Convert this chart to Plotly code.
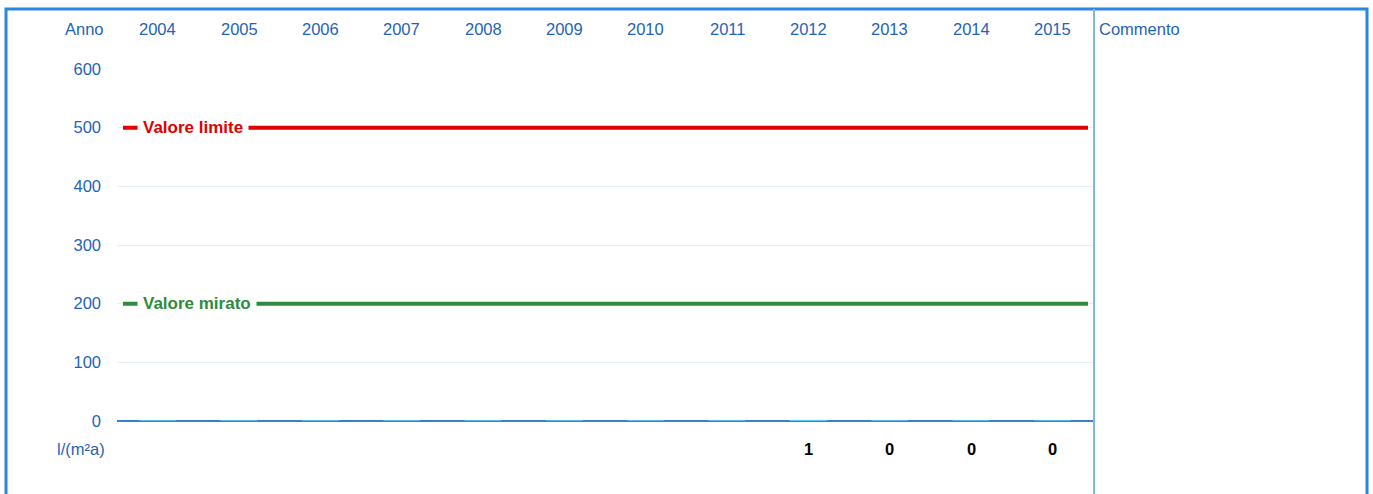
import plotly.graph_objects as go

anni = ["2004", "2005", "2006", "2007", "2008", "2009", "2010", "2011", "2012", "2013", "2014", "2015"]
valori = [0, 0, 0, 0, 0, 0, 0, 0, 1, 0, 0, 0]
valori_testo = ["", "", "", "", "", "", "", "", "1", "0", "0", "0"]
valore_limite = 500
valore_mirato = 200
y_ticks = [0, 100, 200, 300, 400, 500, 600]

W, H = 1373, 494
L, R, T, B = 117, 280, 69, 73
pw, ph = W - L - R, H - T - B

def px_x(p):
    return (p - L) / pw

def px_y(p):
    return (H - B - p) / ph

blu = "#1f63b8"
font = "Liberation Sans, Arial, sans-serif"
fs = 16.5

fig = go.Figure()
fig.add_trace(go.Bar(x=list(range(len(anni))), y=valori,
                     marker=dict(color="#5bc8ee", line=dict(color="#5bc8ee", width=1)),
                     width=0.45, hoverinfo="skip"))

# linee valore limite / mirato
for val, col, txt in [(valore_limite, "#e00000", "Valore limite"), (valore_mirato, "#2e8b3e", "Valore mirato")]:
    fig.add_shape(type="line", xref="paper", yref="y", x0=px_x(123), x1=px_x(1088), y0=val, y1=val,
                  line=dict(color=col, width=4))
    fig.add_annotation(x=px_x(137), y=val, xref="paper", yref="y", text="<b>" + txt + "</b>",
                       showarrow=False, xanchor="left", yanchor="middle", bgcolor="white", borderpad=5,
                       font=dict(color=col, size=17, family=font))

# intestazioni
fig.add_annotation(x=px_x(106), y=px_y(29), xref="paper", yref="paper", text="Anno", showarrow=False,
                   xanchor="right", yanchor="middle", font=dict(color=blu, size=fs, family=font))
for i, a in enumerate(anni):
    fig.add_annotation(x=i, y=px_y(29), xref="x", yref="paper", text=a, showarrow=False,
                       yanchor="middle", font=dict(color=blu, size=fs, family=font))
fig.add_annotation(x=px_x(1097), y=px_y(29), xref="paper", yref="paper", text="Commento", showarrow=False,
                   xanchor="left", yanchor="middle", font=dict(color=blu, size=fs, family=font))

# riga valori
fig.add_annotation(x=px_x(107), y=px_y(449), xref="paper", yref="paper", text="l/(m²a)", showarrow=False,
                   xanchor="right", yanchor="middle", font=dict(color=blu, size=fs, family=font))
for i, t in enumerate(valori_testo):
    if t:
        fig.add_annotation(x=i, y=px_y(449), xref="x", yref="paper", text="<b>" + t + "</b>", showarrow=False,
                           yanchor="middle", font=dict(color="black", size=fs, family=font))

# cornice
fig.add_shape(type="rect", xref="paper", yref="paper", x0=px_x(6), x1=px_x(1367), y0=px_y(520), y1=px_y(9),
              line=dict(color="#2a88dc", width=3), layer="above")
fig.add_shape(type="line", xref="paper", yref="paper", x0=px_x(1094), x1=px_x(1094), y0=px_y(520), y1=px_y(9),
              line=dict(color="#7ab8ea", width=2), layer="above")

fig.update_xaxes(range=[-0.5, len(anni) - 0.5], showticklabels=False, showgrid=False, zeroline=False,
                 showline=False)
fig.update_yaxes(range=[0, 600], tickvals=y_ticks, showgrid=True, gridcolor="#e3edf7", gridwidth=1,
                 zeroline=True, zerolinecolor="#3a80d0", zerolinewidth=1.5,
                 tickfont=dict(color=blu, size=fs, family=font), ticklabelstandoff=15)
fig.update_layout(width=W, height=H, margin=dict(l=L, r=R, t=T, b=B), showlegend=False,
                  plot_bgcolor="white", paper_bgcolor="white", bargap=0.5)

fig.write_html("out.html", config={"displayModeBar": False},
               post_script="document.body.style.margin='0';document.body.style.overflow='hidden';")
